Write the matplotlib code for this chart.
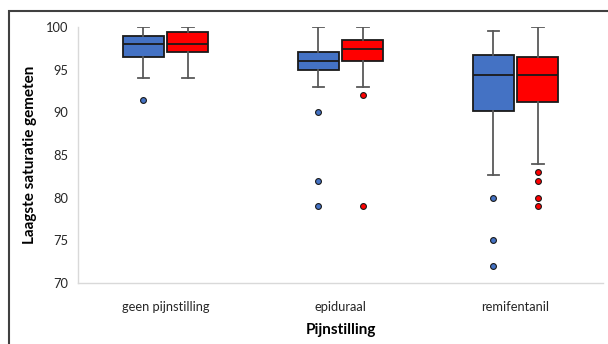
import matplotlib
matplotlib.use("Agg")
import matplotlib.pyplot as plt
from matplotlib.patches import Rectangle

categories = ["geen pijnstilling", "epiduraal", "remifentanil"]

# Blue series statistics
blue_whislo = [94.0, 93.0, 82.6]
blue_q1 = [96.5, 95.0, 90.2]
blue_med = [98.0, 96.0, 94.4]
blue_q3 = [99.0, 97.1, 96.7]
blue_whishi = [100.0, 100.0, 99.5]
blue_fliers = [[91.5], [90.0, 82.0, 79.0], [80.0, 75.0, 72.0]]

# Red series statistics
red_whislo = [94.0, 93.0, 84.0]
red_q1 = [97.1, 96.0, 91.2]
red_med = [98.0, 97.4, 94.4]
red_q3 = [99.4, 98.5, 96.5]
red_whishi = [100.0, 100.0, 100.0]
red_fliers = [[], [92.0, 79.0], [83.0, 82.0, 80.0, 79.0]]

yticks = [70, 75, 80, 85, 90, 95, 100]

BLUE = "#4472C4"
RED = "#FF0000"

plt.rcParams['font.family'] = ['Lato', 'DejaVu Sans']

fig = plt.figure(figsize=(6.08, 3.44), dpi=100)
W, H = 608, 344
ax = fig.add_axes([78 / W, 1 - 283 / H, (603 - 78) / W, (283 - 27) / H])


def stats(whislo, q1, med, q3, whishi, fliers):
    out = []
    for i in range(len(whislo)):
        out.append(dict(whislo=whislo[i], q1=q1[i], med=med[i], q3=q3[i],
                        whishi=whishi[i], fliers=fliers[i]))
    return out


offset = 0.126
width = 0.233
xs = list(range(len(categories)))

for st, color, sign in [
    (stats(blue_whislo, blue_q1, blue_med, blue_q3, blue_whishi, blue_fliers), BLUE, -1),
    (stats(red_whislo, red_q1, red_med, red_q3, red_whishi, red_fliers), RED, 1),
]:
    ax.bxp(st, positions=[x + sign * offset for x in xs], widths=width,
           patch_artist=True, showfliers=True, manage_ticks=False,
           boxprops=dict(facecolor=color, edgecolor="#1a1a1a", linewidth=1.3),
           medianprops=dict(color="#1a1a1a", linewidth=1.3),
           whiskerprops=dict(color="#595959", linewidth=1.3),
           capprops=dict(color="#595959", linewidth=1.3),
           capwidths=0.068,
           flierprops=dict(marker="o", markersize=4.2, markerfacecolor=color,
                           markeredgecolor="#1a1a1a", markeredgewidth=0.8,
                           linestyle="none"))

ax.set_xlim(-0.5, 2.5)
ax.set_ylim(70, 100)
ax.set_yticks(yticks)
ax.set_yticklabels([str(t) for t in yticks])
ax.set_xticks(xs)
ax.set_xticklabels(categories)
ax.tick_params(axis="both", length=0, labelsize=9.3, colors="#262626")
ax.tick_params(axis="x", pad=13)
ax.tick_params(axis="y", pad=7)
for s in ["top", "right"]:
    ax.spines[s].set_visible(False)
for s in ["left", "bottom"]:
    ax.spines[s].set_color("#D9D9D9")
    ax.spines[s].set_linewidth(1.0)
ax.set_ylabel("Laagste saturatie gemeten", fontsize=11, fontweight="bold",
              color="#000000", labelpad=6)
ax.set_xlabel("Pijnstilling", fontsize=11, fontweight="bold", color="#000000",
              labelpad=7)
ax.patch.set_alpha(0)

fig.patches.append(Rectangle((9 / W, -0.05), 1.2, 1 - 11 / H + 0.05,
                             transform=fig.transFigure, fill=False,
                             edgecolor="#404040", linewidth=1.5, zorder=0))

fig.savefig("out.png", dpi=100)
